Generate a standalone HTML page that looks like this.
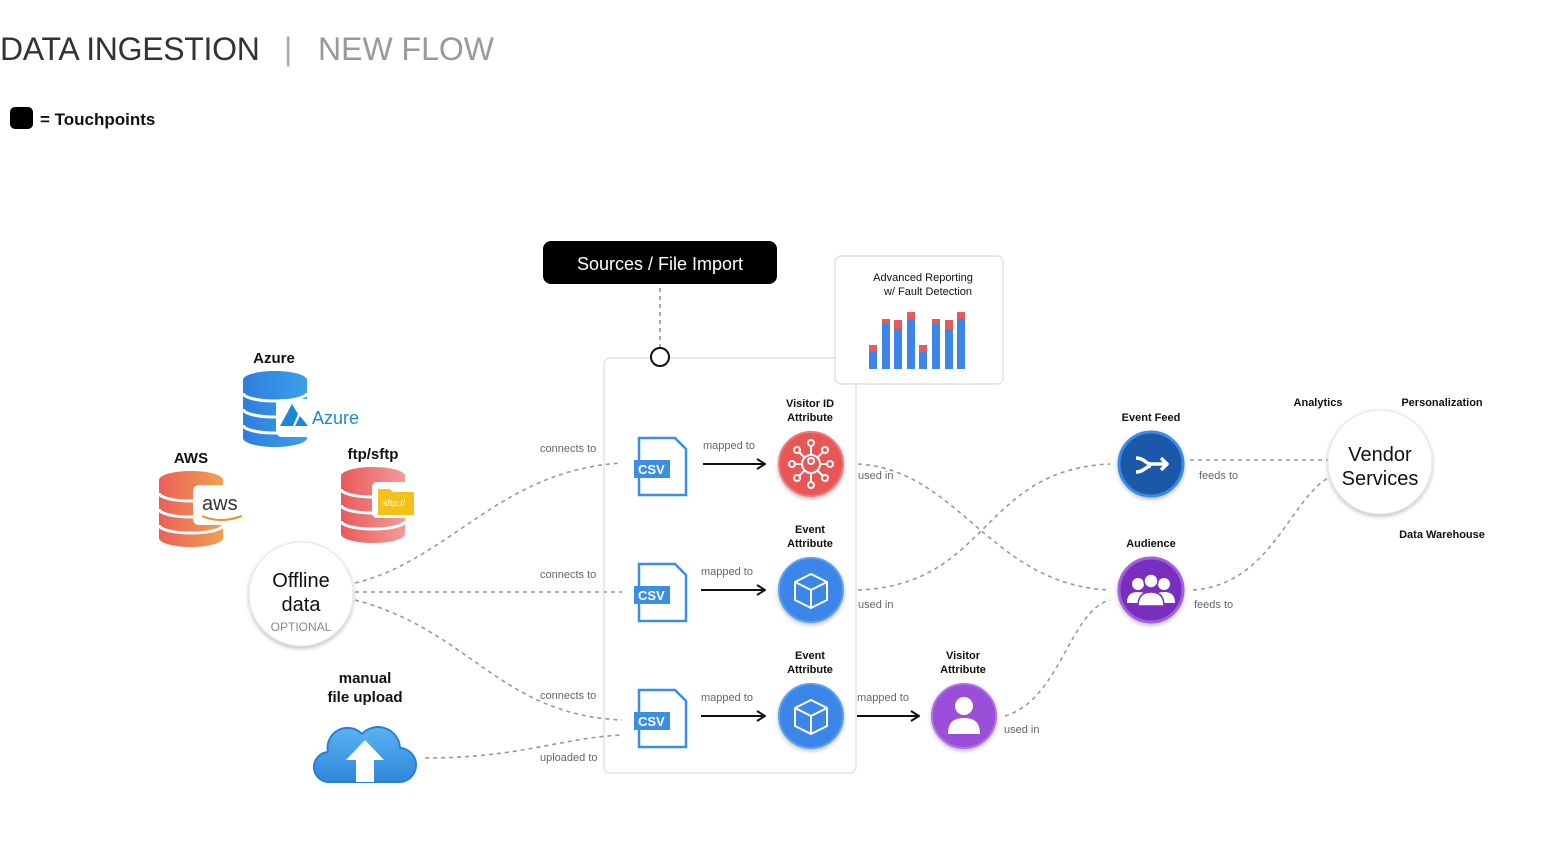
<!DOCTYPE html>
<html><head><meta charset="utf-8"><style>
html,body{margin:0;padding:0;background:#fff;width:1547px;height:862px;overflow:hidden}
svg{display:block;font-family:"Liberation Sans",sans-serif}
</style></head><body>
<svg width="1547" height="862" viewBox="0 0 1547 862" xmlns="http://www.w3.org/2000/svg">
<defs>
<linearGradient id="gb" x1="0" x2="1"><stop offset="0" stop-color="#2f7de0"/><stop offset="1" stop-color="#3aa0e8"/></linearGradient>
<linearGradient id="go" x1="0" x2="1"><stop offset="0" stop-color="#ec5f5a"/><stop offset="1" stop-color="#f0a050"/></linearGradient>
<linearGradient id="gr" x1="0" x2="1"><stop offset="0" stop-color="#e85a5a"/><stop offset="1" stop-color="#f49a9a"/></linearGradient>
<linearGradient id="gc" x1="0" y1="0" x2="0" y2="1"><stop offset="0" stop-color="#5ab4f0"/><stop offset="1" stop-color="#2f86dc"/></linearGradient>
<marker id="ar" markerWidth="10" markerHeight="12" refX="9" refY="6" orient="auto" markerUnits="userSpaceOnUse"><path d="M1,1 L9,6 L1,11" fill="none" stroke="#111" stroke-width="2"/></marker>
<filter id="sh" x="-30%" y="-30%" width="160%" height="160%"><feDropShadow dx="0" dy="2" stdDeviation="2" flood-color="#000" flood-opacity="0.25"/></filter>
</defs>

<!-- title -->
<text x="0" y="60" font-size="32" fill="#333" letter-spacing="-0.3">DATA INGESTION</text>
<text x="284" y="60" font-size="32" fill="#aaa">|</text>
<text x="318" y="60" font-size="32" fill="#999">NEW FLOW</text>
<rect x="10" y="107" width="23" height="22" rx="5" fill="#000"/>
<text x="40" y="125" font-size="17" font-weight="bold" fill="#111">= Touchpoints</text>

<!-- dashed connectors -->
<g fill="none" stroke="#999" stroke-width="1.6" stroke-dasharray="4,4">
<path d="M355,583 C450,560 500,470 622,463"/>
<path d="M355,592 L622,592"/>
<path d="M355,600 C470,630 500,715 622,720"/>
<path d="M425,758 C520,758 560,738 622,735"/>
<path d="M858,464 C960,470 990,585 1110,590"/>
<path d="M858,590 C990,585 980,470 1110,464"/>
<path d="M1005,716 C1060,700 1070,610 1110,600"/>
<path d="M1190,460 L1328,460"/>
<path d="M1193,590 C1270,585 1290,500 1328,478"/>
<path d="M660,288 L660,348"/>
</g>

<!-- container & sources -->
<rect x="604" y="358" width="252" height="415" rx="6" fill="none" stroke="#ddd" stroke-width="1.2"/>
<circle cx="660" cy="357" r="9" fill="#fff" stroke="#111" stroke-width="2"/>
<rect x="543" y="241" width="234" height="43" rx="8" fill="#000"/>
<text x="660" y="270" font-size="18" fill="#fff" text-anchor="middle">Sources / File Import</text>

<!-- report box -->
<rect x="835" y="256" width="168" height="128" rx="6" fill="#fff" stroke="#ddd" stroke-width="1.2"/>
<text x="923" y="281" font-size="11" fill="#111" text-anchor="middle">Advanced Reporting</text>
<text x="928" y="295" font-size="11" fill="#111" text-anchor="middle">w/ Fault Detection</text>
<g>
<rect x="869" y="345" width="8" height="24" fill="#3b86e8"/><rect x="869" y="345" width="8" height="7" fill="#e85a5a"/>
<rect x="882" y="319" width="8" height="50" fill="#3b86e8"/><rect x="882" y="319" width="8" height="4" fill="#e85a5a"/>
<rect x="894" y="320" width="8" height="49" fill="#3b86e8"/><rect x="894" y="320" width="8" height="9" fill="#e85a5a"/>
<rect x="907" y="312" width="8" height="57" fill="#3b86e8"/><rect x="907" y="312" width="8" height="7" fill="#e85a5a"/>
<rect x="919" y="345" width="8" height="24" fill="#3b86e8"/><rect x="919" y="345" width="8" height="7" fill="#e85a5a"/>
<rect x="932" y="319" width="8" height="50" fill="#3b86e8"/><rect x="932" y="319" width="8" height="4" fill="#e85a5a"/>
<rect x="945" y="320" width="8" height="49" fill="#3b86e8"/><rect x="945" y="320" width="8" height="9" fill="#e85a5a"/>
<rect x="957" y="312" width="8" height="57" fill="#3b86e8"/><rect x="957" y="312" width="8" height="7" fill="#e85a5a"/>
</g>

<!-- databases -->
<g>
<g>
<path d="M243,380 a32,9 0 0 1 64,0 v58 a32,9 0 0 1 -64,0 z" fill="url(#gb)"/>
<g stroke="#fff" stroke-width="3" fill="none"><path d="M243,393 a32,8 0 0 0 64,0"/><path d="M243,409 a32,8 0 0 0 64,0"/><path d="M243,425 a32,8 0 0 0 64,0"/></g>
<rect x="276" y="399" width="70" height="38" rx="6" fill="#fff"/>
<path d="M280,426 L292,404 L298,414 L293,426 Z M295,426 L300,416 L308,426 Z" fill="#1e88d8"/>
<text x="312" y="424" font-size="18" fill="#1e88d8">Azure</text>
</g>
<g>
<path d="M159,480 a32,9 0 0 1 64,0 v58 a32,9 0 0 1 -64,0 z" fill="url(#go)"/>
<g stroke="#fff" stroke-width="3" fill="none"><path d="M159,493 a32,8 0 0 0 64,0"/><path d="M159,509 a32,8 0 0 0 64,0"/><path d="M159,525 a32,8 0 0 0 64,0"/></g>
<rect x="193" y="485" width="54" height="40" rx="6" fill="#fff"/>
<text x="202" y="510" font-size="20" fill="#333">aws</text>
<path d="M202,516 q18,8 40,0" fill="none" stroke="#f09020" stroke-width="2"/>
</g>
<g>
<path d="M341,476 a32,9 0 0 1 64,0 v58 a32,9 0 0 1 -64,0 z" fill="url(#gr)"/>
<g stroke="#fff" stroke-width="3" fill="none"><path d="M341,489 a32,8 0 0 0 64,0"/><path d="M341,505 a32,8 0 0 0 64,0"/><path d="M341,521 a32,8 0 0 0 64,0"/></g>
<rect x="372" y="482" width="46" height="36" rx="5" fill="#fff"/>
<path d="M378,489 h12 l3,3 h21 v23 h-36 z" fill="#f2c21a"/>
<text x="383" y="506" font-size="9" fill="#fff">sftp://</text>
</g>
</g>
<g font-size="15" font-weight="bold" fill="#111" text-anchor="middle">
<text x="274" y="363">Azure</text>
<text x="191" y="463">AWS</text>
<text x="373" y="459">ftp/sftp</text>
<text x="365" y="683">manual</text>
<text x="365" y="702">file upload</text>
</g>

<!-- offline data -->
<circle cx="301" cy="594" r="52" fill="#fff" stroke="#e6e6e6" filter="url(#sh)"/>
<text x="301" y="587" font-size="20" fill="#111" text-anchor="middle">Offline</text>
<text x="301" y="611" font-size="20" fill="#111" text-anchor="middle">data</text>
<text x="301" y="631" font-size="12" fill="#888" text-anchor="middle">OPTIONAL</text>

<!-- cloud -->
<path d="M330,782 a15,15 0 0 1 -2,-30 a20,20 0 0 1 34,-18 a22,22 0 0 1 38,14 a17,17 0 0 1 -2,34 z" fill="url(#gc)" stroke="#2a7fd4" stroke-width="2"/>
<path d="M365,740 L346,760 h10 v22 h18 v-22 h10 z" fill="#fff"/>

<!-- csv icons -->
<g fill="none" stroke="#3b8ee0" stroke-width="2.5">
<path d="M639,438 h36 l11,11 v46 h-47 z"/>
<path d="M639,564 h36 l11,11 v46 h-47 z"/>
<path d="M639,690 h36 l11,11 v46 h-47 z"/>
</g>
<g fill="#3b8ee0"><rect x="634" y="460" width="36" height="18"/><rect x="634" y="586" width="36" height="18"/><rect x="634" y="712" width="36" height="18"/></g>
<g font-size="13" font-weight="bold" fill="#fff"><text x="638" y="474">CSV</text><text x="638" y="600">CSV</text><text x="638" y="726">CSV</text></g>

<!-- arrows -->
<g stroke="#111" stroke-width="2" marker-end="url(#ar)">
<line x1="703" y1="464" x2="765" y2="464"/>
<line x1="701" y1="590" x2="765" y2="590"/>
<line x1="701" y1="716" x2="765" y2="716"/>
<line x1="857" y1="716" x2="919" y2="716"/>
</g>

<!-- edge labels -->
<g font-size="11" fill="#666">
<text x="540" y="452">connects to</text>
<text x="540" y="578">connects to</text>
<text x="540" y="699">connects to</text>
<text x="540" y="761">uploaded to</text>
<text x="703" y="449">mapped to</text>
<text x="701" y="575">mapped to</text>
<text x="701" y="701">mapped to</text>
<text x="857" y="701">mapped to</text>
<text x="858" y="479">used in</text>
<text x="858" y="608">used in</text>
<text x="1004" y="733">used in</text>
<text x="1199" y="479">feeds to</text>
<text x="1194" y="608">feeds to</text>
</g>

<!-- nodes -->
<g filter="url(#sh)">
<circle cx="811" cy="464" r="32" fill="#e85656" stroke="#f07a7a" stroke-width="2"/>
<circle cx="811" cy="590" r="32" fill="#3b86e8" stroke="#5aa0f0" stroke-width="2"/>
<circle cx="811" cy="716" r="32" fill="#3b86e8" stroke="#5aa0f0" stroke-width="2"/>
<circle cx="964" cy="716" r="32" fill="#9b4fd8" stroke="#b070e8" stroke-width="2"/>
<circle cx="1151" cy="464" r="32" fill="#1d58a8" stroke="#3b8ae8" stroke-width="3"/>
<circle cx="1151" cy="590" r="32" fill="#7a2fc0" stroke="#a060e0" stroke-width="3"/>
<circle cx="1380" cy="462" r="52" fill="#fff" stroke="#e6e6e6"/>
</g>
<g stroke="#fff" stroke-width="2" fill="none">
<circle cx="811" cy="464" r="9"/><circle cx="811" cy="461" r="3"/>
<line x1="811" y1="455" x2="811" y2="446"/><line x1="811" y1="473" x2="811" y2="482"/>
<line x1="802" y1="464" x2="795" y2="464"/><line x1="820" y1="464" x2="827" y2="464"/>
<line x1="805" y1="458" x2="799" y2="452"/><line x1="817" y1="458" x2="823" y2="452"/>
<line x1="805" y1="470" x2="799" y2="476"/><line x1="817" y1="470" x2="823" y2="476"/>
<circle cx="811" cy="443" r="3"/><circle cx="811" cy="485" r="3"/><circle cx="792" cy="464" r="3"/><circle cx="830" cy="464" r="3"/>
<circle cx="797" cy="450" r="3"/><circle cx="825" cy="450" r="3"/><circle cx="797" cy="478" r="3"/><circle cx="825" cy="478" r="3"/>
</g>
<g stroke="#fff" stroke-width="2" fill="none" stroke-linejoin="round">
<path d="M811,574 l16,8 v18 l-16,8 l-16,-8 v-18 z M795,582 l16,8 l16,-8 M811,590 v18"/>
<path d="M811,700 l16,8 v18 l-16,8 l-16,-8 v-18 z M795,708 l16,8 l16,-8 M811,716 v18"/>
<path d="M1136,458 c8,0 10,6 15,6 M1136,472 c8,0 10,-6 15,-6 M1151,464 h16 M1161,458 l6,6 l-6,6" stroke-width="3.5"/>
</g>
<circle cx="964" cy="706" r="9" fill="#fff"/>
<path d="M948,734 c0,-12 6,-16 16,-16 c10,0 16,4 16,16 z" fill="#fff"/>
<g fill="#fff">
<circle cx="1138" cy="584" r="6"/><circle cx="1164" cy="584" r="6"/>
<path d="M1127,603 c0,-8 4,-11 11,-11 c7,0 11,3 11,11 z M1153,603 c0,-8 4,-11 11,-11 c7,0 11,3 11,11 z"/>
<circle cx="1151" cy="581" r="7" stroke="#7a2fc0" stroke-width="1.5"/>
<path d="M1138,606 c0,-10 5,-14 13,-14 c8,0 13,4 13,14 z" stroke="#7a2fc0" stroke-width="1.5"/>
</g>

<text x="1380" y="461" font-size="20" fill="#111" text-anchor="middle">Vendor</text>
<text x="1380" y="485" font-size="20" fill="#111" text-anchor="middle">Services</text>

<g font-size="11" font-weight="bold" fill="#111" text-anchor="middle">
<text x="810" y="407">Visitor ID</text><text x="810" y="421">Attribute</text>
<text x="810" y="533">Event</text><text x="810" y="547">Attribute</text>
<text x="810" y="659">Event</text><text x="810" y="673">Attribute</text>
<text x="963" y="659">Visitor</text><text x="963" y="673">Attribute</text>
<text x="1151" y="421">Event Feed</text>
<text x="1151" y="547">Audience</text>
<text x="1318" y="406">Analytics</text>
<text x="1442" y="406">Personalization</text>
<text x="1442" y="538">Data Warehouse</text>
</g>
</svg>
</body></html>
